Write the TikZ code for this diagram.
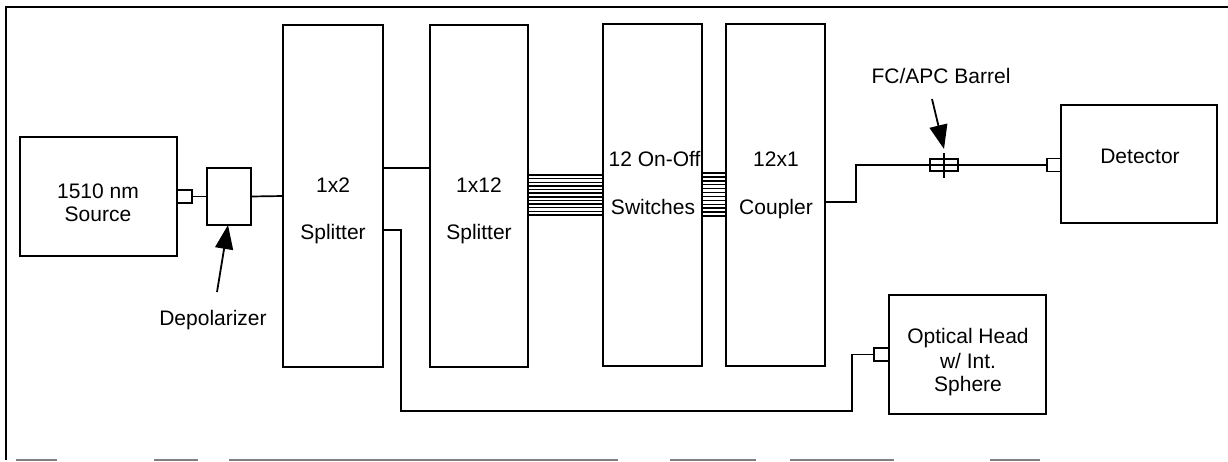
\documentclass[tikz,border=0pt]{standalone}
\usepackage{fontspec}
\setmainfont{Liberation Sans}
\usetikzlibrary{arrows.meta}
\begin{document}
\begin{tikzpicture}[x=1pt,y=-1pt,
  box/.style={draw,line width=1.8pt,inner sep=0pt,outer sep=0pt},
  txt/.style={font=\fontsize{21}{25}\selectfont,anchor=base,inner sep=0pt},
  wire/.style={line width=1.7pt},
  fiber/.style={line width=1.4pt},
  frame/.style={line width=1.8pt},
  pointer/.style={line width=1.8pt,-{Triangle[length=24pt,width=18pt]}}]
\useasboundingbox (0,0) rectangle (1228,461);
% frame
\draw[frame] (1228,7) -- (6,7) -- (6,460);
\foreach \a/\b in {16/57,154/198,229/618,670/756,790/894,990/1040}
  \draw[frame,gray] (\a,460) -- (\b,460);
% boxes
\node[box,minimum width=157pt,minimum height=119pt] (src) at (98.5,196.5) {};
\node[box,minimum width=15pt,minimum height=13pt] (srcc) at (184.5,196.5) {};
\node[box,minimum width=44pt,minimum height=57pt] (depol) at (229,196.5) {};
\node[box,minimum width=100pt,minimum height=342pt] (split2) at (333,196) {};
\node[box,minimum width=98pt,minimum height=342pt] (split12) at (479,196) {};
\node[box,minimum width=99pt,minimum height=342pt] (sw) at (652.5,195) {};
\node[box,minimum width=99pt,minimum height=342pt] (coup) at (775.5,195) {};
\node[box,minimum width=156pt,minimum height=118pt] (det) at (1139,164) {};
\node[box,minimum width=14pt,minimum height=13pt] (detc) at (1054,165) {};
\node[box,minimum width=157pt,minimum height=119pt] (head) at (967.5,354.5) {};
\node[box,minimum width=15pt,minimum height=13pt] (headc) at (881.5,354.5) {};
% texts
\node[txt] (t1) at (98,198) {1510 nm};
\node[txt] (t2) at (98,221) {Source};
\node[txt] (t3) at (213,325) {Depolarizer};
\node[txt] (t4) at (333,192) {1x2};
\node[txt] (t5) at (333,239) {Splitter};
\node[txt] (t6) at (479,192) {1x12};
\node[txt] (t7) at (479,239) {Splitter};
\node[txt] (t8) at (654.5,166) {12 On-Off};
\node[txt] (t9) at (653,214) {Switches};
\node[txt] (t10) at (776,166) {12x1};
\node[txt] (t11) at (776,214) {Coupler};
\node[txt] (t12) at (941,83) {FC/APC Barrel};
\node[txt] (t13) at (1140,163) {Detector};
\node[txt] (t14) at (968,343) {Optical Head};
\node[txt] (t15) at (968,368) {w/ Int.};
\node[txt] (t16) at (968,391) {Sphere};
% wires
\draw[wire] (srcc.east) -- (depol.west);
\draw[wire] (depol.east) -- (split2.west);
\draw[wire] (split2.east |- 0,168) -- (split12.west |- 0,168);
\draw[wire] (split2.east |- 0,230) -- (401,230) -- (401,411) -- (852,411) |- (headc.west);
\draw[wire] (coup.east |- 0,202) -- (856,202) -- (856,165) -- (detc.west);
% barrel
\node[box,line width=1.5pt,minimum width=28pt,minimum height=12pt] (barrel) at (944,165) {};
\draw[wire] (barrel.center |- 0,153) -- (barrel.center |- 0,178);
% fiber bundles
\foreach \i in {0,...,11}{
  \draw[fiber] (split12.east |- 0,{175+\i*40/11}) -- (sw.west |- 0,{175+\i*40/11});
  \draw[fiber] (sw.east |- 0,{173+\i*43/11}) -- (coup.west |- 0,{173+\i*43/11});
}
% pointers
\coordinate (dtail) at (217,292);
\coordinate (btail) at (932,99);
\draw[pointer] (dtail) -- (depol.south -| 228,0);
\draw[pointer] (btail) -- (944,149);
\end{tikzpicture}
\end{document}
